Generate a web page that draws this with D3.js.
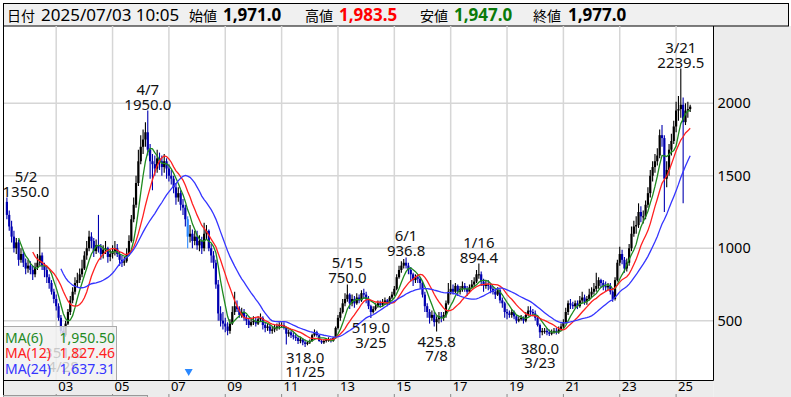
<!DOCTYPE html>
<html>
<head>
<meta charset="utf-8">
<script src="https://cdn.jsdelivr.net/npm/d3@7"></script>
<style>
  body { margin: 0; background: #fff; }
  text { font-family: "Noto Sans", "DejaVu Sans", sans-serif; }
  .jp { font-family: "Noto Sans CJK JP", "Noto Sans", sans-serif; }
</style>
</head>
<body>
<div id="chart-area"></div>
<script>
// monthly candles, first one is 2001/04
var startYear = 2001, startMonth = 4;

var opens = [
  1320, 1230, 1150, 1080, 1000, 1040, 920, 960, 900,            // 2001
  860, 880, 850, 820, 870, 900, 950, 880, 850, 800, 760, 700,    // 2002
  650, 600, 520, 430, 400, 480, 560, 640, 700, 760, 780, 820,    // 2003
  860, 950, 1000, 1080, 1050, 980, 1020, 1000, 960, 990, 1000, 940,
  960, 980, 1000, 960, 920, 900, 910, 960, 1050, 1200, 1300, 1450,
  1600, 1700, 1750, 1800, 1680, 1600, 1580, 1550, 1620, 1600, 1560, 1600,
  1550, 1500, 1480, 1420, 1350, 1380, 1300, 1280, 1200, 1080, 1100, 1050,
  1080, 1020, 1050, 1000, 1100, 1120, 1000, 950, 900, 750, 550, 500,
  480, 460, 430, 480, 560, 600, 580, 540, 560, 520, 500, 470,
  490, 500, 480, 510, 520, 470, 450, 460, 430, 440, 450, 460,
  470, 470, 450, 410, 420, 400, 390, 380, 360, 370, 350, 340,
  350, 360, 400, 420, 400, 360, 350, 360, 370, 370, 360, 380,
  450, 520, 560, 620, 650, 680, 620, 650, 620, 660, 640, 690,
  680, 650, 600, 560, 580, 600, 620, 610, 630, 640, 620, 660,
  680, 720, 800, 850, 880, 900, 880, 850, 820, 780, 800, 790,
  760, 680, 600, 560, 520, 540, 490, 510, 530, 520, 540, 620,
  700, 720, 700, 740, 700, 720, 740, 720, 700, 730, 750, 770,
  820, 820, 770, 740, 750, 740, 720, 700, 680, 710, 640, 620,
  560, 550, 540, 560, 530, 500, 510, 520, 500, 540, 570, 560,
  550, 520, 470, 420, 430, 430, 420, 410, 420, 430, 420, 440,
  460, 490, 560, 620, 610, 600, 620, 600, 640, 660, 630, 650,
  680, 700, 720, 740, 780, 760, 740, 730, 740, 700, 650, 780,
  900, 960, 920, 860, 900, 1000, 1100, 1150, 1160, 1250, 1220, 1220,
  1300, 1380, 1500, 1560, 1600, 1640, 1780, 1760, 1480, 1540, 1680, 1740,
  1840, 1950, 1960, 1990, 1870, 1950, 1960                      // 2025
];
var highs = [
  1350, 1260, 1190, 1120, 1070, 1060, 1000, 990, 930,
  920, 910, 880, 900, 960, 1080, 970, 900, 870, 820, 780, 720,
  680, 620, 540, 460, 500, 580, 670, 730, 800, 830, 860, 920,
  980, 1050, 1120, 1110, 1070, 1060, 1230, 1030, 1020, 1050, 1010, 990,
  1020, 1050, 1030, 980, 950, 940, 1000, 1090, 1230, 1350, 1500, 1680,
  1780, 1820, 1870, 1950, 1720, 1650, 1640, 1680, 1660, 1640, 1650, 1620,
  1580, 1540, 1500, 1450, 1420, 1400, 1340, 1300, 1220, 1160, 1130, 1120,
  1120, 1090, 1080, 1175, 1160, 1130, 1030, 980, 920, 780, 600, 560,
  520, 490, 510, 600, 700, 640, 600, 590, 580, 540, 520, 520,
  530, 520, 530, 550, 530, 490, 480, 470, 460, 470, 480, 490,
  490, 490, 460, 440, 430, 420, 410, 390, 390, 380, 370, 360,
  370, 410, 440, 430, 405, 370, 370, 380, 385, 380, 390, 460,
  540, 590, 650, 690, 750, 690, 680, 670, 690, 680, 710, 720,
  700, 670, 610, 600, 620, 640, 640, 650, 660, 650, 670, 700,
  740, 820, 880, 910, 925, 936.8, 900, 870, 830, 820, 820, 800,
  770, 700, 620, 580, 570, 560, 530, 560, 560, 560, 640, 760,
  780, 750, 760, 750, 740, 770, 760, 740, 750, 780, 800, 850,
  894.4, 840, 790, 780, 780, 760, 740, 720, 730, 720, 660, 630,
  580, 570, 580, 570, 540, 530, 540, 530, 560, 600, 600, 580,
  570, 530, 480, 450, 450, 450, 440, 440, 450, 450, 460, 480,
  510, 590, 640, 650, 630, 640, 640, 670, 700, 680, 670, 720,
  730, 760, 830, 800, 790, 780, 770, 760, 760, 710, 800, 920,
  1010, 990, 940, 930, 1030, 1150, 1190, 1220, 1310, 1290, 1260, 1330,
  1420, 1540, 1600, 1650, 1690, 1820, 1850, 1780, 1600, 1720, 1790, 1880,
  2010, 2050, 2239.5, 2040, 2000, 2010, 1990
];
var lows = [
  1200, 1120, 1040, 970, 960, 880, 900, 870, 820,
  830, 820, 780, 800, 850, 880, 850, 800, 760, 720, 680, 620,
  570, 500, 410, 351, 390, 470, 540, 620, 680, 730, 760, 800,
  850, 920, 980, 1000, 940, 960, 970, 920, 930, 960, 900, 910,
  930, 950, 940, 880, 870, 880, 900, 950, 1040, 1180, 1280, 1430,
  1580, 1650, 1700, 1640, 1480, 1400, 1500, 1520, 1540, 1500, 1520, 1480,
  1460, 1440, 1380, 1300, 1320, 1260, 1230, 1150, 1000, 1040, 1000, 1020,
  990, 980, 960, 980, 1060, 980, 900, 860, 720, 500, 460, 440,
  420, 400, 410, 470, 540, 560, 520, 520, 500, 470, 450, 460,
  470, 460, 470, 490, 440, 420, 430, 410, 410, 420, 430, 440,
  450, 440, 335, 390, 380, 370, 360, 340, 345, 330, 318, 330,
  340, 355, 390, 390, 355, 340, 340, 350, 355, 350, 355, 375,
  440, 500, 550, 600, 630, 580, 600, 590, 610, 620, 630, 650,
  620, 580, 519, 550, 570, 590, 590, 600, 610, 600, 610, 650,
  670, 710, 790, 830, 860, 860, 820, 770, 740, 760, 760, 720,
  660, 560, 520, 480, 500, 460, 425.8, 480, 490, 500, 520, 610,
  680, 680, 690, 670, 680, 700, 700, 670, 690, 720, 740, 760,
  790, 740, 700, 720, 710, 690, 680, 650, 670, 620, 590, 520,
  510, 520, 520, 510, 480, 490, 500, 480, 490, 530, 540, 530,
  500, 460, 380, 400, 410, 400, 395, 400, 410, 405, 410, 430,
  450, 480, 540, 580, 580, 590, 580, 590, 620, 610, 610, 640,
  660, 680, 700, 720, 730, 710, 700, 710, 680, 630, 640, 770,
  880, 890, 830, 840, 880, 980, 1080, 1100, 1140, 1180, 1170, 1200,
  1280, 1350, 1460, 1520, 1570, 1620, 1700, 1250, 1420, 1500, 1640, 1720,
  1800, 1880, 1900, 1310, 1850, 1900, 1940
];
var closes = [
  1230, 1150, 1080, 1000, 1040, 920, 960, 900, 860,
  880, 850, 820, 870, 900, 950, 880, 850, 800, 760, 700, 650,
  600, 520, 430, 400, 480, 560, 640, 700, 760, 780, 820, 860,
  950, 1000, 1080, 1050, 980, 1020, 1000, 960, 990, 1000, 940, 960,
  980, 1000, 960, 920, 900, 910, 960, 1050, 1200, 1300, 1450, 1600,
  1700, 1750, 1800, 1680, 1600, 1580, 1550, 1620, 1600, 1560, 1600, 1550,
  1500, 1480, 1420, 1350, 1380, 1300, 1280, 1200, 1080, 1100, 1050, 1080,
  1020, 1050, 1000, 1100, 1120, 1000, 950, 900, 750, 550, 500, 480,
  460, 430, 480, 560, 600, 580, 540, 560, 520, 500, 470, 490,
  500, 480, 510, 520, 470, 450, 460, 430, 440, 450, 460, 470,
  470, 450, 410, 420, 400, 390, 380, 360, 370, 350, 340, 350,
  360, 400, 420, 400, 360, 350, 360, 370, 370, 360, 380, 450,
  520, 560, 620, 650, 680, 620, 650, 620, 660, 640, 690, 680,
  650, 600, 560, 580, 600, 620, 610, 630, 640, 620, 660, 680,
  720, 800, 850, 880, 900, 880, 850, 820, 780, 800, 790, 760,
  680, 600, 560, 520, 540, 490, 510, 530, 520, 540, 620, 700,
  720, 700, 740, 700, 720, 740, 720, 700, 730, 750, 770, 820,
  820, 770, 740, 750, 740, 720, 700, 680, 710, 640, 620, 560,
  550, 540, 560, 530, 500, 510, 520, 500, 540, 570, 560, 550,
  520, 470, 420, 430, 430, 420, 410, 420, 430, 420, 440, 460,
  490, 560, 620, 610, 600, 620, 600, 640, 660, 630, 650, 680,
  700, 720, 740, 780, 760, 740, 730, 740, 700, 650, 780, 900,
  960, 920, 860, 900, 1000, 1100, 1150, 1160, 1250, 1220, 1220, 1300,
  1380, 1500, 1560, 1600, 1640, 1780, 1760, 1480, 1540, 1680, 1740, 1840,
  1950, 1960, 1990, 1870, 1950, 1960, 1977
];

// special candle + marker (2007/09)
var markedMonths = ["2007-09"];

// high / low annotations
var notes = [
  { month: "2001-04", date: "5/2",   value: 1350.0, kind: "high" },
  { month: "2003-04", date: "4/28",  value: 351.0,  kind: "low" },
  { month: "2006-04", date: "4/7",   value: 1950.0, kind: "high" },
  { month: "2011-11", date: "11/25", value: 318.0,  kind: "low" },
  { month: "2013-05", date: "5/15",  value: 750.0,  kind: "high" },
  { month: "2014-03", date: "3/25",  value: 519.0,  kind: "low" },
  { month: "2015-06", date: "6/1",   value: 936.8,  kind: "high" },
  { month: "2016-07", date: "7/8",   value: 425.8,  kind: "low" },
  { month: "2018-01", date: "1/16",  value: 894.4,  kind: "high" },
  { month: "2020-03", date: "3/23",  value: 380.0,  kind: "low" },
  { month: "2025-03", date: "3/21",  value: 2239.5, kind: "high" }
];

var maPeriods = [6, 12, 24];
var maColors = ["#1f8a1f", "#ff2020", "#3535ff"];
var maLegendValues = ["1,950.50", "1,827.46", "1,637.31"];

var yTicks = [500, 1000, 1500, 2000];
var xTickYears = [2003, 2005, 2007, 2009, 2011, 2013, 2015, 2017, 2019, 2021, 2023, 2025];
var xTickLabels = ["03", "05", "07", "09", "11", "13", "15", "17", "19", "21", "23", "25"];

var header = [
  { label: "日付", value: "2025/07/03 10:05", color: "#000", bold: false, lx: 7,   vx: 41 },
  { label: "始値", value: "1,971.0", color: "#000",    bold: true, lx: 189, vx: 223 },
  { label: "高値", value: "1,983.5", color: "#ff0000", bold: true, lx: 305, vx: 339 },
  { label: "安値", value: "1,947.0", color: "#0a7a0a", bold: true, lx: 420, vx: 454 },
  { label: "終値", value: "1,977.0", color: "#000",    bold: true, lx: 533, vx: 568 }
];

var W = 791, H = 397;
var plotL = 3, plotR = 713.5, plotT = 26, plotB = 380.5;
var upColor = "#000000", downColor = "#0000b0", markColor = "#2a88ff";

var svg = d3.select("#chart-area")
    .append("svg")
    .attr("width", W)
    .attr("height", H);

function monthNum(s) {
    var p = s.split("-");
    return (+p[0]) * 12 + (+p[1] - 1);
}

var data = closes.map(function(c, i) {
    return {
        t: startYear * 12 + (startMonth - 1) + i,
        o: opens[i], h: highs[i], l: lows[i], c: c
    };
});

var x = d3.scaleLinear()
    .domain([2003 * 12, 2025 * 12])
    .range([56.2, 676.1]);

var y = d3.scaleLinear()
    .domain([500, 2000])
    .range([320.7, 103.3]);

// backgrounds
svg.append("rect").attr("x", 0).attr("y", 0).attr("width", W).attr("height", H).attr("fill", "#fff");
svg.append("rect").attr("x", plotR).attr("y", plotT).attr("width", W - plotR).attr("height", H - plotT).attr("fill", "#ececec");
svg.append("rect").attr("x", plotL).attr("y", plotB).attr("width", plotR - plotL).attr("height", H - plotB).attr("fill", "#ececec");

// header bar
svg.append("rect")
    .attr("x", 3.5).attr("y", 3.5).attr("width", 785).attr("height", 22.5)
    .attr("fill", "#f0f0f0").attr("stroke", "#000");

header.forEach(function(d) {
    svg.append("text").attr("class", "jp")
        .attr("x", d.lx).attr("y", 21)
        .attr("font-size", 14).attr("fill", "#000")
        .text(d.label);
    svg.append("text")
        .attr("x", d.vx).attr("y", 21)
        .attr("font-size", 17)
        .attr("font-weight", d.bold ? "bold" : "normal")
        .attr("fill", d.color)
        .text(d.value);
});

// grid
var plot = svg.append("g");
plot.selectAll(".vgrid")
    .data(xTickYears)
    .enter().append("line")
    .attr("x1", function(d) { return x(d * 12); })
    .attr("x2", function(d) { return x(d * 12); })
    .attr("y1", plotT).attr("y2", plotB)
    .attr("stroke", "#d6d6d6").attr("stroke-width", 1.5);
plot.selectAll(".hgrid")
    .data(yTicks)
    .enter().append("line")
    .attr("x1", plotL).attr("x2", plotR)
    .attr("y1", function(d) { return y(d); })
    .attr("y2", function(d) { return y(d); })
    .attr("stroke", "#d6d6d6").attr("stroke-width", 1.5);

// candles
var marked = markedMonths.map(monthNum);
function candleColor(d) {
    if (marked.indexOf(d.t) >= 0) return markColor;
    return d.c >= d.o ? upColor : downColor;
}

var candles = plot.selectAll(".candle")
    .data(data)
    .enter().append("g");

candles.append("line")
    .attr("x1", function(d) { return x(d.t); })
    .attr("x2", function(d) { return x(d.t); })
    .attr("y1", function(d) { return y(d.h); })
    .attr("y2", function(d) { return y(d.l); })
    .attr("stroke", candleColor)
    .attr("stroke-width", 1.1);

candles.append("rect")
    .attr("x", function(d) { return x(d.t) - 1.1; })
    .attr("width", 2.2)
    .attr("y", function(d) { return y(Math.max(d.o, d.c)); })
    .attr("height", function(d) { return Math.max(1, y(Math.min(d.o, d.c)) - y(Math.max(d.o, d.c))); })
    .attr("fill", candleColor);

// moving averages
function sma(n) {
    var out = [];
    for (var i = n - 1; i < data.length; i++) {
        out.push({ t: data[i].t, v: d3.mean(data.slice(i - n + 1, i + 1), function(d) { return d.c; }) });
    }
    return out;
}

var line = d3.line()
    .x(function(d) { return x(d.t); })
    .y(function(d) { return y(d.v); });

maPeriods.forEach(function(n, i) {
    plot.append("path")
        .datum(sma(n))
        .attr("d", line)
        .attr("fill", "none")
        .attr("stroke", maColors[i])
        .attr("stroke-width", 1.3);
});

// annotations
notes.forEach(function(d) {
    var cx = Math.max(plotL + 23, x(monthNum(d.month)));
    var vy = y(d.value);
    var valY = d.kind === "high" ? vy - 7 : vy + 9.5;
    var dateY = d.kind === "high" ? vy - 22 : vy + 24;
    [[d.value.toFixed(1), valY], [d.date, dateY]].forEach(function(p) {
        plot.append("text")
            .attr("x", cx).attr("y", p[1])
            .attr("text-anchor", "middle")
            .attr("dominant-baseline", "central")
            .attr("font-size", 15)
            .attr("fill", "#111")
            .text(p[0]);
    });
});

// marker triangle
marked.forEach(function(t) {
    var mx = x(t) + 1;
    plot.append("path")
        .attr("d", "M" + (mx - 4) + ",369 L" + (mx + 4) + ",369 L" + mx + ",376 Z")
        .attr("fill", markColor);
});

// legend box
var legend = svg.append("g");
legend.append("rect")
    .attr("x", plotL + 0.5).attr("y", 326.5).attr("width", 113).attr("height", plotB - 326.5)
    .attr("fill", "#f0f0f0").attr("fill-opacity", 0.82)
    .attr("stroke", "#aaa");
maPeriods.forEach(function(n, i) {
    var ly = 337 + i * 15.6;
    legend.append("text")
        .attr("x", 5).attr("y", ly)
        .attr("dominant-baseline", "central")
        .attr("font-size", 14).attr("fill", maColors[i])
        .text("MA(" + n + ")");
    legend.append("text")
        .attr("x", 115).attr("y", ly)
        .attr("text-anchor", "end")
        .attr("dominant-baseline", "central")
        .attr("font-size", 14).attr("fill", maColors[i])
        .text(maLegendValues[i]);
});

// frame
svg.append("line").attr("x1", plotR).attr("x2", plotR).attr("y1", plotT).attr("y2", plotB).attr("stroke", "#000");
svg.append("line").attr("x1", plotL).attr("x2", plotR).attr("y1", plotB).attr("y2", plotB).attr("stroke", "#000");
svg.append("line").attr("x1", plotL + 0.5).attr("x2", plotL + 0.5).attr("y1", plotT).attr("y2", H).attr("stroke", "#000");

// y axis on the right panel
var yAxis = svg.append("g")
    .attr("transform", "translate(" + plotR + ",0)")
    .call(d3.axisRight(y).tickValues(yTicks).tickFormat(d3.format("d")).tickSize(0).tickPadding(4));
yAxis.select(".domain").remove();
yAxis.selectAll("text")
    .attr("font-size", 14.5)
    .attr("font-family", "Noto Sans, sans-serif")
    .attr("fill", "#000");

// x axis labels in the bottom strip
var xAxis = svg.append("g")
    .attr("transform", "translate(0," + plotB + ")")
    .call(d3.axisBottom(x)
        .tickValues(xTickYears.map(function(d) { return d * 12; }))
        .tickFormat(function(d, i) { return xTickLabels[i]; })
        .tickSize(0).tickPadding(1));
xAxis.select(".domain").remove();
xAxis.selectAll("text")
    .attr("text-anchor", "start")
    .attr("dx", 1.5)
    .attr("font-size", 13)
    .attr("font-family", "Noto Sans, sans-serif")
    .attr("fill", "#000");

// little ticks at the bottom and the scroll box
svg.selectAll(".btick")
    .data(xTickYears)
    .enter().append("line")
    .attr("x1", function(d) { return x(d * 12); })
    .attr("x2", function(d) { return x(d * 12); })
    .attr("y1", 394).attr("y2", H)
    .attr("stroke", "#888");
svg.append("rect")
    .attr("x", plotL + 0.5).attr("y", 395.5).attr("width", 144).attr("height", 4)
    .attr("fill", "#dcdcdc").attr("stroke", "#999");
</script>
</body>
</html>
